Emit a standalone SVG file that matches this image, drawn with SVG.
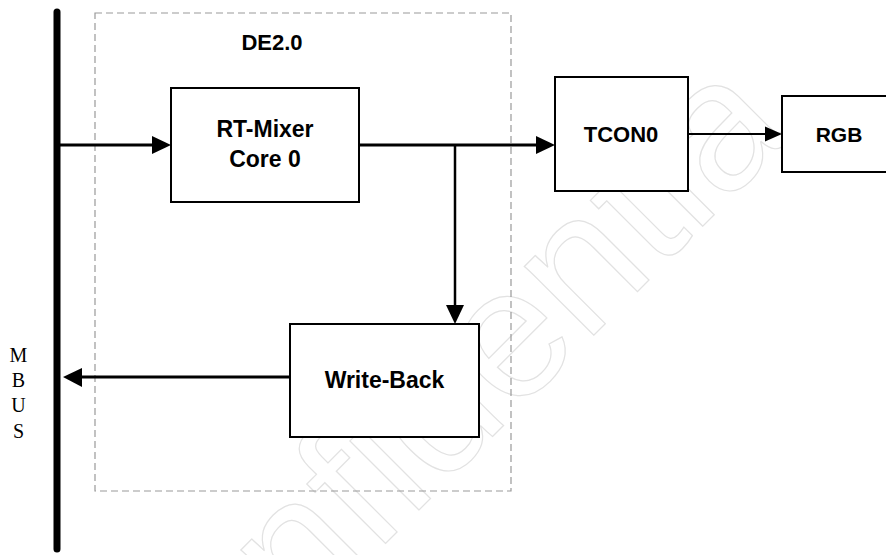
<svg xmlns="http://www.w3.org/2000/svg" width="886" height="555" viewBox="0 0 886 555">
<style>
.box{fill:#fff;stroke:#000;stroke-width:2}
.lbl{font-family:"Liberation Sans",Arial,sans-serif;font-weight:bold;fill:#000;text-anchor:middle}
.ln{stroke:#000;fill:none}
.ah{fill:#000;stroke:none}
.wm{font-family:"Liberation Sans",Arial,sans-serif;font-size:185px;fill:none;stroke:#e2e2e2;stroke-width:1.2}
.bus{font-family:"Liberation Serif","Times New Roman",serif;font-size:20px;fill:#000;text-anchor:middle}
</style>
<rect width="886" height="555" fill="#fff"/>
<g id="watermark">
<text class="wm" transform="translate(163,766) rotate(-45)">confidentia</text>
</g>
<g id="de20">
<rect x="95" y="13" width="416" height="478" fill="none" stroke="#999" stroke-width="1.2" stroke-dasharray="7 4"/>
<text class="lbl" x="272" y="50" font-size="22">DE2.0</text>
</g>
<g id="mbus">
<line x1="57" y1="12" x2="57" y2="549" stroke="#000" stroke-width="7" stroke-linecap="round"/>
<text class="bus" x="18.5" y="362">M</text>
<text class="bus" x="18.5" y="387">B</text>
<text class="bus" x="18.5" y="412">U</text>
<text class="bus" x="18.5" y="438">S</text>
</g>
<g id="rtmixer">
<rect class="box" x="171" y="88" width="188" height="114"/>
<text class="lbl" x="265" y="137" font-size="23">RT-Mixer</text>
<text class="lbl" x="265" y="167" font-size="23">Core 0</text>
</g>
<g id="tcon0">
<rect class="box" x="555" y="77" width="133" height="114"/>
<text class="lbl" x="621" y="142" font-size="22">TCON0</text>
</g>
<g id="rgb">
<rect class="box" x="782" y="96" width="120" height="76"/>
<text class="lbl" x="839" y="142" font-size="21">RGB</text>
</g>
<g id="writeback">
<rect class="box" x="290" y="324" width="189" height="113"/>
<text class="lbl" x="384.5" y="388" font-size="23">Write-Back</text>
</g>
<g id="connectors">
<line class="ln" x1="60" y1="145" x2="154" y2="145" stroke-width="3"/>
<polygon class="ah" points="152,136 171,145 152,154"/>
<line class="ln" x1="359" y1="145" x2="538" y2="145" stroke-width="3"/>
<polygon class="ah" points="536,136 555,145 536,154"/>
<line class="ln" x1="455" y1="145" x2="455" y2="307" stroke-width="2.5"/>
<polygon class="ah" points="446,305 455,324 464,305"/>
<line class="ln" x1="290" y1="377" x2="80" y2="377" stroke-width="3"/>
<polygon class="ah" points="82,368 63,377 82,387"/>
<line class="ln" x1="688" y1="134" x2="767" y2="134" stroke-width="2"/>
<polygon class="ah" points="765,126.5 782,134 765,141.5"/>
</g>
</svg>
